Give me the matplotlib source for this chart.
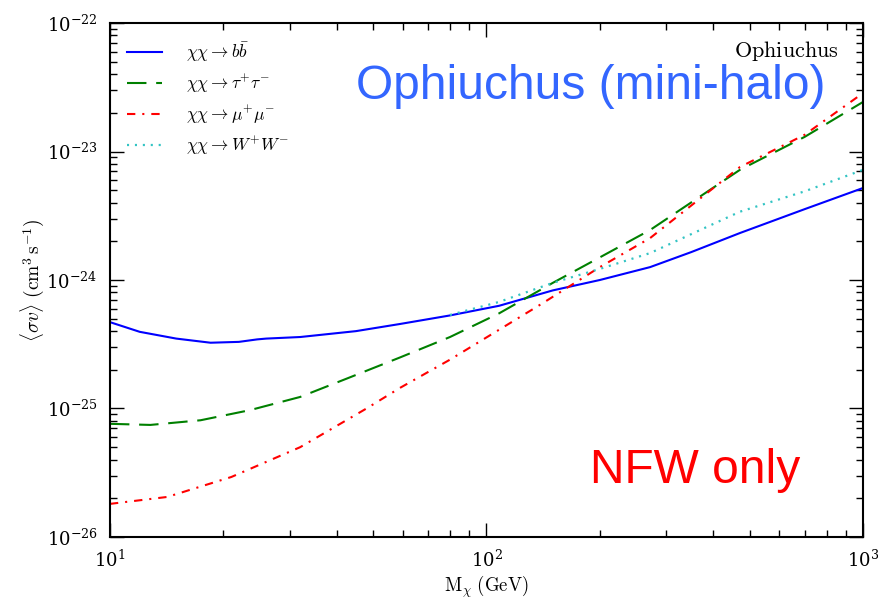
import matplotlib

matplotlib.use("Agg")

import matplotlib.pyplot as plt

plt.rcParams["mathtext.fontset"] = "cm"
plt.rcParams["font.family"] = "serif"
plt.rcParams["lines.scale_dashes"] = False

# values (log-log axes)
mass_bb = [10, 12, 15, 18.5, 22, 24.6, 26, 32, 45, 59, 80, 108, 150, 200, 272, 350, 471, 700, 1000]
sv_bb = [4.7e-25, 3.95e-25, 3.5e-25, 3.25e-25, 3.3e-25, 3.45e-25, 3.5e-25, 3.6e-25, 4.0e-25,
         4.55e-25, 5.3e-25, 6.3e-25, 8.3e-25, 1.0e-24, 1.26e-24, 1.65e-24, 2.32e-24, 3.56e-24, 5.2e-24]

mass_tau = [10, 12.8, 17.4, 23.5, 32, 43, 59, 80, 108, 150, 200, 272, 471, 700, 1000]
sv_tau = [7.6e-26, 7.45e-26, 8.1e-26, 9.7e-26, 1.23e-25, 1.73e-25, 2.5e-25, 3.6e-25, 5.5e-25,
          9.5e-25, 1.5e-24, 2.45e-24, 7.2e-24, 1.3e-23, 2.43e-23]

mass_mu = [10, 14.2, 21, 32, 48, 59, 80, 108, 141, 200, 272, 471, 700, 1000]
sv_mu = [1.81e-26, 2.05e-26, 2.93e-26, 5.0e-26, 1.0e-25, 1.45e-25, 2.4e-25, 4.1e-25, 6.6e-25,
         1.26e-24, 2.12e-24, 7.57e-24, 1.35e-23, 2.85e-23]

mass_ww = [80, 108, 150, 200, 272, 471, 700, 1000]
sv_ww = [5.35e-25, 6.75e-25, 9.5e-25, 1.22e-24, 1.62e-24, 3.4e-24, 4.9e-24, 7.2e-24]

labels = [r"$\chi\chi\rightarrow b\bar{b}$", r"$\chi\chi\rightarrow \tau^{+}\tau^{-}$",
          r"$\chi\chi\rightarrow \mu^{+}\mu^{-}$", r"$\chi\chi\rightarrow W^{+}W^{-}$"]

fig = plt.figure(figsize=(8.79, 6.01), dpi=100)
ax = fig.add_axes([0.1251, 0.1065, 0.8567, 0.8552])

ax.plot(mass_bb, sv_bb, color="#0000ff", lw=1.5, label=labels[0])
ax.plot(mass_tau, sv_tau, color="#008000", lw=1.5, dashes=(14, 7), label=labels[1])
ax.plot(mass_mu, sv_mu, color="#ff0000", lw=1.5, dashes=(6, 5, 1.5, 5), label=labels[2])
ax.plot(mass_ww, sv_ww, color="#33c4c4", lw=1.6, dashes=(1.5, 4.2), label=labels[3])

ax.set_xscale("log")
ax.set_yscale("log")
ax.set_xlim(10, 1000)
ax.set_ylim(1e-26, 1e-22)
ax.set_xlabel(r"$\mathrm{M}_{\chi}\ (\mathrm{GeV})$", fontsize=13.5, labelpad=2)
ax.set_ylabel(r"$\langle\sigma v\rangle\ (\mathrm{cm}^{3}\,\mathrm{s}^{-1})$", fontsize=14,
              labelpad=0)

ax.tick_params(which="both", direction="in", top=True, right=True, labelsize=13)
ax.tick_params(which="major", length=10, width=1)
ax.tick_params(which="minor", length=5, width=1)
ax.tick_params(axis="x", which="major", pad=9)
ax.tick_params(axis="y", which="major", pad=9)
for spine in ax.spines.values():
    spine.set_linewidth(1.5)

ax.legend(loc="upper left", frameon=False, fontsize=12.5, handlelength=2.0,
          handletextpad=1.4, labelspacing=0.5, borderaxespad=0.6)

ax.text(0.968, 0.945, r"$\mathrm{Ophiuchus}$", transform=ax.transAxes, ha="right",
        va="center", fontsize=16)
ax.text(0.639, 0.876, "Ophiuchus (mini-halo)", transform=ax.transAxes, ha="center",
        va="center", fontsize=34.5, color="#3366ff", family="Liberation Sans")
ax.text(0.777, 0.13, "NFW only", transform=ax.transAxes, ha="center",
        va="center", fontsize=34.5, color="#ff0000", family="Liberation Sans")

fig.savefig("out.png", dpi=100)
